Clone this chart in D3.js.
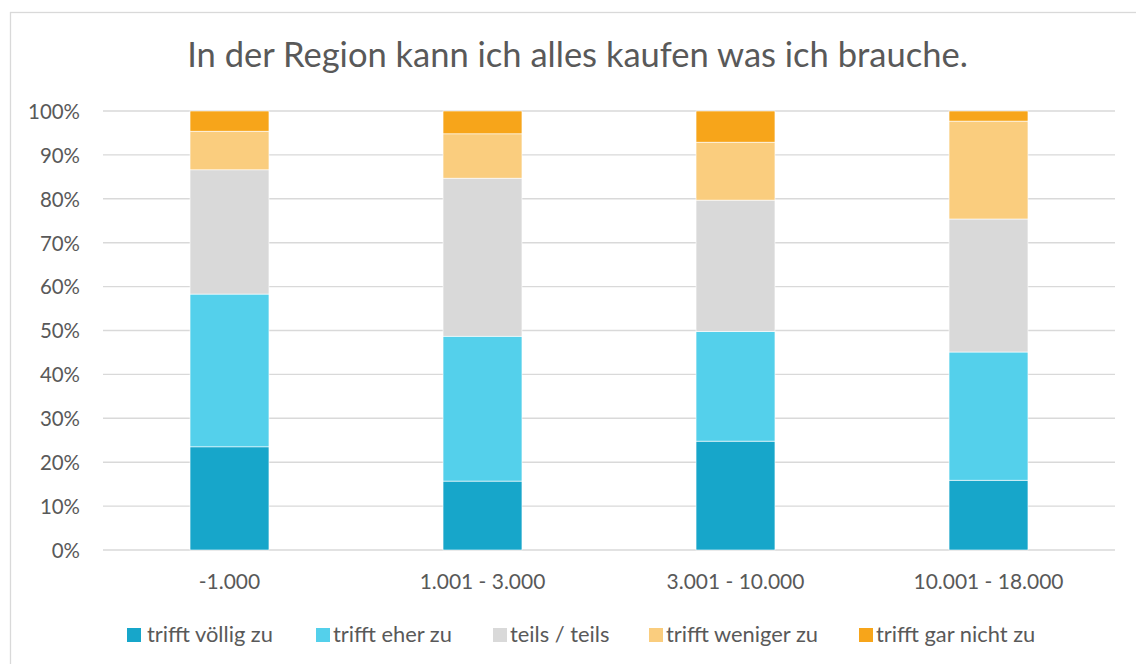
<!DOCTYPE html>
<html><head><meta charset="utf-8">
<script src="https://cdn.jsdelivr.net/npm/d3@7"></script>
<style>body{margin:0;background:#fff}svg{display:block}text{font-family:Lato,"Open Sans",sans-serif;fill:#595959}</style>
</head><body>
<svg id="c" width="1136" height="664"></svg>
<script>
const title = "In der Region kann ich alles kaufen was ich brauche.";
const categories = ["-1.000", "1.001 - 3.000", "3.001 - 10.000", "10.001 - 18.000"];
const seriesNames = ["trifft völlig zu", "trifft eher zu", "teils / teils", "trifft weniger zu", "trifft gar nicht zu"];
const seriesColors = ["#17A6CA", "#54D0EB", "#D9D9D9", "#FACD7E", "#F7A51A"];
const trifftVoellig = [23.5, 15.7, 24.8, 15.9];
const trifftEher = [34.8, 33.0, 25.0, 29.2];
const teilsTeils = [28.3, 36.0, 29.9, 30.3];
const trifftWeniger = [8.8, 10.1, 13.2, 22.3];
const trifftGarNicht = [4.6, 5.2, 7.1, 2.3];
const yTicks = [0, 10, 20, 30, 40, 50, 60, 70, 80, 90, 100];
const seriesValues = [trifftVoellig, trifftEher, teilsTeils, trifftWeniger, trifftGarNicht];

const FONT = 'Lato,"Open Sans",sans-serif';
const svg = d3.select("#c");
const m = {l: 103, r: 1115, t: 111, b: 550};

// chart border
svg.append("rect").attr("x", 10.5).attr("y", 12.5).attr("width", 1140).attr("height", 660)
  .attr("fill", "none").attr("stroke", "#D9D9D9").attr("stroke-width", 1.3);

const x = d3.scaleBand().domain(categories).range([m.l, m.r]).paddingInner(0.688).paddingOuter(0.344);
const y = d3.scaleLinear().domain([0, 100]).range([m.b, m.t]);

function fit(sel, target) {
  const node = sel.node();
  const fs = parseFloat(sel.attr("font-size"));
  const w = node.getComputedTextLength();
  sel.attr("font-size", (fs * target / w).toFixed(2));
  return fs * target / w;
}

// gridlines
svg.append("g").selectAll("line").data(yTicks).join("line")
  .attr("x1", m.l).attr("x2", m.r)
  .attr("y1", d => y(d)).attr("y2", d => y(d))
  .attr("stroke", "#D9D9D9").attr("stroke-width", 1.4);

// y axis labels
const yAxis = svg.append("g").attr("transform", `translate(80,0)`)
  .call(d3.axisLeft(y).tickValues(yTicks).tickFormat(d => d + "%").tickSize(0).tickPadding(0));
yAxis.select(".domain").remove();
const yt = yAxis.selectAll("text").attr("font-size", 20).attr("font-family", FONT).attr("fill", "#595959");
let tickFs = 20;
yt.filter(d => d === 100).each(function(){ tickFs = fit(d3.select(this), 52); });
yt.attr("font-size", tickFs).attr("dy", "0.36em");

// stacked bars
const stackData = categories.map((c, i) => {
  const o = {cat: c};
  seriesNames.forEach((s, j) => o[s] = seriesValues[j][i]);
  return o;
});
const stack = d3.stack().keys(seriesNames)(stackData);
svg.append("g").selectAll("g").data(stack).join("g")
  .attr("fill", (d, i) => seriesColors[i])
  .selectAll("rect").data(d => d).join("rect")
  .attr("x", d => x(d.data.cat)).attr("width", x.bandwidth())
  .attr("y", d => y(d[1])).attr("height", d => y(d[0]) - y(d[1]))
  .attr("stroke", "#fff").attr("stroke-width", 0.6);

// x axis labels
const xAxis = svg.append("g").attr("transform", `translate(0,${m.b})`)
  .call(d3.axisBottom(x).tickSize(0).tickPadding(0));
xAxis.select(".domain").remove();
const xt = xAxis.selectAll("text").attr("font-size", 20).attr("font-family", FONT).attr("fill", "#595959")
  .attr("dy", 0).attr("y", 39);
let xFs = 20;
xt.filter(d => d === "10.001 - 18.000").each(function(){ xFs = fit(d3.select(this), 150); });
xt.attr("font-size", xFs);

// title
const t = svg.append("text").attr("x", 577.5).attr("y", 67).attr("text-anchor", "middle")
  .attr("font-size", 32).text(title);
fit(t, 781);

// legend
const legX = [127, 316, 493, 649, 859];
const legW = [126, 124, 103, 157, 166];
const lg = svg.append("g");
seriesNames.forEach((s, i) => {
  lg.append("rect").attr("x", legX[i]).attr("y", 628).attr("width", 14).attr("height", 14).attr("fill", seriesColors[i]);
});
let legFs = 20;
const lt0 = lg.append("text").attr("x", legX[0] + 20).attr("y", 642).attr("font-size", 20).text(seriesNames[0]);
legFs = fit(lt0, legW[0]);
seriesNames.slice(1).forEach((s, k) => {
  const i = k + 1;
  lg.append("text").attr("x", legX[i] + 17).attr("y", 642).attr("font-size", legFs).text(s);
});
</script>
</body></html>
